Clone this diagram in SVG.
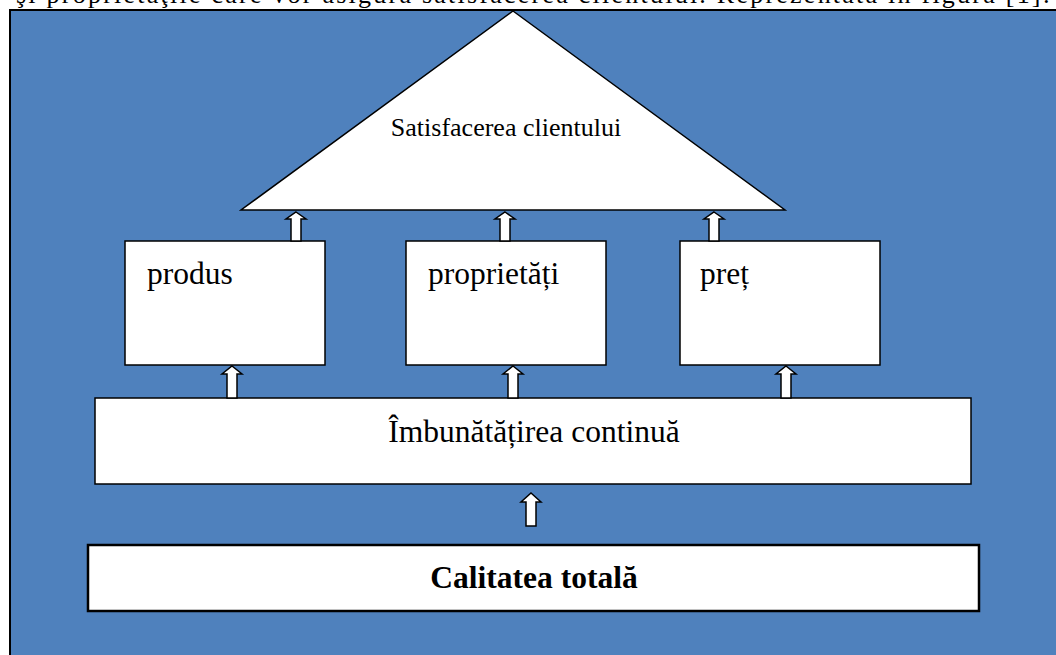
<svg xmlns="http://www.w3.org/2000/svg" width="1056" height="655" viewBox="0 0 1056 655">
  <style>
    .page { fill: #ffffff; }
    .panel { fill: #4F81BD; stroke: #000000; stroke-width: 2; }
    .box { fill: #ffffff; stroke: #000000; stroke-width: 1.5; }
    .boxbold { fill: #ffffff; stroke: #000000; stroke-width: 2.5; }
    .arrow { fill: #ffffff; stroke: #000000; stroke-width: 1.5; stroke-linejoin: miter; }
    .txt { font-family: "Liberation Serif", "Times New Roman", serif; fill: #000000; }
    .lbl { font-size: 31.5px; }
    .top { font-size: 26px; }
    .bold { font-weight: bold; }
  </style>

  <rect class="page" x="0" y="0" width="1056" height="655"/>

  <!-- running body text above the figure -->
  <text class="txt top" x="16" y="3" textLength="1034" lengthAdjust="spacing">şi proprietăţile care vor asigura satisfacerea clientului. Reprezentată în figura [1]:</text>

  <!-- background panel -->
  <rect class="panel" x="10" y="10" width="1060" height="660"/>

  <g id="satisfacerea-clientului">
    <polygon class="box" points="513,11 785,210 241,210"/>
    <text class="txt" x="506" y="136" font-size="26" text-anchor="middle">Satisfacerea clientului</text>
  </g>

  <g id="produs">
    <rect class="box" x="125" y="241" width="200" height="124"/>
    <text class="txt lbl" x="147" y="284">produs</text>
  </g>

  <g id="proprietati">
    <rect class="box" x="406" y="241" width="200" height="124"/>
    <text class="txt lbl" x="428" y="284">proprietăți</text>
  </g>

  <g id="pret">
    <rect class="box" x="680" y="241" width="200" height="124"/>
    <text class="txt lbl" x="700" y="284">preț</text>
  </g>

  <g id="imbunatatirea-continua">
    <rect class="box" x="95" y="398" width="876" height="86"/>
    <text class="txt lbl" x="534" y="442" text-anchor="middle">Îmbunătățirea continuă</text>
  </g>

  <g id="calitatea-totala">
    <rect class="boxbold" x="88" y="545" width="891" height="66"/>
    <text class="txt lbl bold" x="534" y="588" text-anchor="middle">Calitatea totală</text>
  </g>

  <!-- block arrows pointing upward between levels -->
  <g id="connectors">
    <path class="arrow" d="M296,212 L306,219 L301,219 L301,241 L291,241 L291,219 L286,219 Z"/>
    <path class="arrow" d="M505,212 L515,219 L510,219 L510,241 L500,241 L500,219 L495,219 Z"/>
    <path class="arrow" d="M714,212 L724,219 L719,219 L719,241 L709,241 L709,219 L704,219 Z"/>

    <path class="arrow" d="M232,366 L242,374 L237,374 L237,398 L227,398 L227,374 L222,374 Z"/>
    <path class="arrow" d="M513,366 L523,374 L518,374 L518,398 L508,398 L508,374 L503,374 Z"/>
    <path class="arrow" d="M786,366 L796,374 L791,374 L791,398 L781,398 L781,374 L776,374 Z"/>

    <path class="arrow" d="M531,493 L541,502 L536,502 L536,526 L526,526 L526,502 L521,502 Z"/>
  </g>
</svg>
